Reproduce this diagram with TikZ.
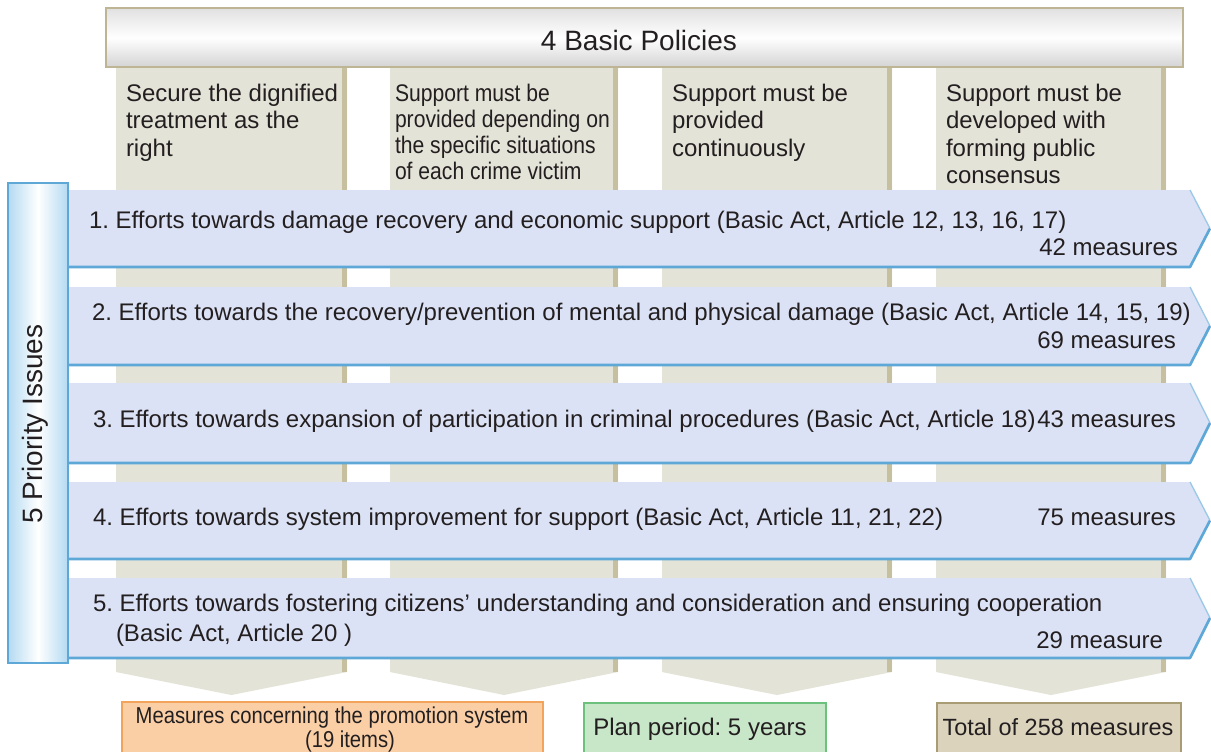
\documentclass[tikz,border=0pt]{standalone}
\usepackage{fontspec}
\setmainfont{Liberation Sans}
\newfontfamily\narrowfont[FakeStretch=0.88]{Liberation Sans}
\frenchspacing
\definecolor{txt}{HTML}{231F20}
\definecolor{bandfill}{HTML}{DCE2F5}
\definecolor{bandline}{HTML}{5EA8D8}
\definecolor{bandlight}{HTML}{9CC8E8}
\definecolor{colfill}{HTML}{E4E3D8}
\definecolor{coledge}{HTML}{C6C0A0}
\definecolor{bannerline}{HTML}{BDB594}
\definecolor{barline}{HTML}{5EA8D8}
\definecolor{barlight}{HTML}{B4DAF1}
\definecolor{orfill}{HTML}{FBCFA6}
\definecolor{orline}{HTML}{F2A45C}
\definecolor{grfill}{HTML}{C8E6C8}
\definecolor{grline}{HTML}{6CC27C}
\definecolor{tanfill}{HTML}{DCD3BD}
\definecolor{tanline}{HTML}{A89C74}
\begin{document}
\begin{tikzpicture}[x=0.75pt,y=-0.75pt,
  every node/.style={inner sep=0pt,outer sep=0pt,text=txt},
  coltext/.style={font=\fontsize{18}{20}\selectfont,anchor=base west},
  narrowtext/.style={font=\narrowfont\fontsize{18}{20}\selectfont,anchor=base west},
  bandtext/.style={font=\fontsize{18}{20}\selectfont,anchor=base west},
  meastext/.style={font=\fontsize{18}{20}\selectfont,anchor=base east},
  bigtext/.style={font=\fontsize{21}{24}\selectfont},
  colshape/.style={fill=colfill},
  edgestrip/.style={fill=coledge},
  bandshape/.style={fill=bandfill},
  bandborder/.style={draw=bandline,line width=2pt,line join=round},
  bandtop/.style={draw=bandlight,line width=1pt},
  boxline/.style={line width=1.6pt}
]
\useasboundingbox (0,0) rectangle (1211,751);
\fill[white] (0,0) rectangle (1211,751);

% columns
\foreach \xa/\xb in {116/347,390/618,662/892,936/1166}{
  \path[colshape] (\xa,60) -- (\xb,60) -- (\xb,672) -- ({(\xa+\xb)/2},695) -- (\xa,672) -- cycle;
  \path[edgestrip] ({\xb-5},60) rectangle (\xb,672);
}

% banner
\path[draw=bannerline,line width=1.6pt,top color=black!12,bottom color=black!17,middle color=white]
  (106,8) rectangle (1183,67);
\node[bigtext,anchor=base] (banner) at (639,50) {4 Basic Policies};

% column texts
\node[coltext] (c1a) at (126,101) {Secure the dignified};
\node[coltext] (c1b) at (126,128.5) {treatment as the};
\node[coltext] (c1c) at (126,156) {right};

\node[narrowtext] (c2a) at (395,101) {Support must be};
\node[narrowtext] (c2b) at (395,127) {provided depending on};
\node[narrowtext] (c2c) at (395,153) {the specific situations};
\node[narrowtext] (c2d) at (395,179) {of each crime victim};

\node[coltext] (c3a) at (672,101) {Support must be};
\node[coltext] (c3b) at (672,128.5) {provided};
\node[coltext] (c3c) at (672,156) {continuously};

\node[coltext] (c4a) at (946,101) {Support must be};
\node[coltext] (c4b) at (946,128.5) {developed with};
\node[coltext] (c4c) at (946,156) {forming public};
\node[coltext] (c4d) at (946,183) {consensus};

% bands
\foreach \t/\b in {190/267,287/365,383/463,482/559,578/658}{
  \path[bandshape] (60,\t) -- (1190,\t) -- (1210,{(\t+\b)/2}) -- (1190,\b) -- (60,\b) -- cycle;
  \draw[bandtop] (1190,\t) -- (1210,{(\t+\b)/2});
  \draw[bandborder] (60,\b) -- (1190,\b) -- (1210,{(\t+\b)/2});
}

% left bar
\path[draw=barline,line width=2pt,left color=barlight,right color=barlight,middle color=white]
  (8,183) rectangle (68,663);
\node[bigtext,rotate=90] (bar) at (35,424) {5 Priority Issues};

% band texts
\node[bandtext] (b1) at (89,228.5) {1. Efforts towards damage recovery and economic support (Basic Act, Article 12, 13, 16, 17)};
\node[meastext] (m1) at (1178,255.5) {42 measures};
\node[bandtext] (b2) at (92,320.5) {2. Efforts towards the recovery/prevention of mental and physical damage (Basic Act, Article 14, 15, 19)};
\node[meastext] (m2) at (1176,348.5) {69 measures};
\node[bandtext] (b3) at (93,427) {3. Efforts towards expansion of participation in criminal procedures (Basic Act, Article 18)};
\node[meastext] (m3) at (1176,427) {43 measures};
\node[bandtext] (b4) at (93,525.5) {4. Efforts towards system improvement for support (Basic Act, Article 11, 21, 22)};
\node[meastext] (m4) at (1176,525.5) {75 measures};
\node[bandtext] (b5) at (93,611.5) {5. Efforts towards fostering citizens’ understanding and consideration and ensuring cooperation};
\node[bandtext] (b5b) at (116,641.5) {(Basic Act, Article 20 )};
\node[meastext] (m5) at (1163,648.5) {29 measure};

% bottom boxes
\path[boxline,draw=orline,fill=orfill] (122,702) rectangle (543,760);
\node[font=\narrowfont\fontsize{17.25}{19}\selectfont,anchor=base] (o1) at (332,723) {Measures concerning the promotion system};
\node[font=\narrowfont\fontsize{17.25}{19}\selectfont,anchor=base] (o2) at (350,747) {(19 items)};
\path[boxline,draw=grline,fill=grfill] (584,703) rectangle (826,760);
\node[font=\fontsize{18}{20}\selectfont,anchor=base] (g1) at (700,735.5) {Plan period: 5 years};
\path[boxline,draw=tanline,fill=tanfill] (937,703) rectangle (1181,760);
\node[font=\fontsize{17.6}{20}\selectfont,anchor=base] (t1) at (1058,735.5) {Total of 258 measures};
\end{tikzpicture}
\end{document}
